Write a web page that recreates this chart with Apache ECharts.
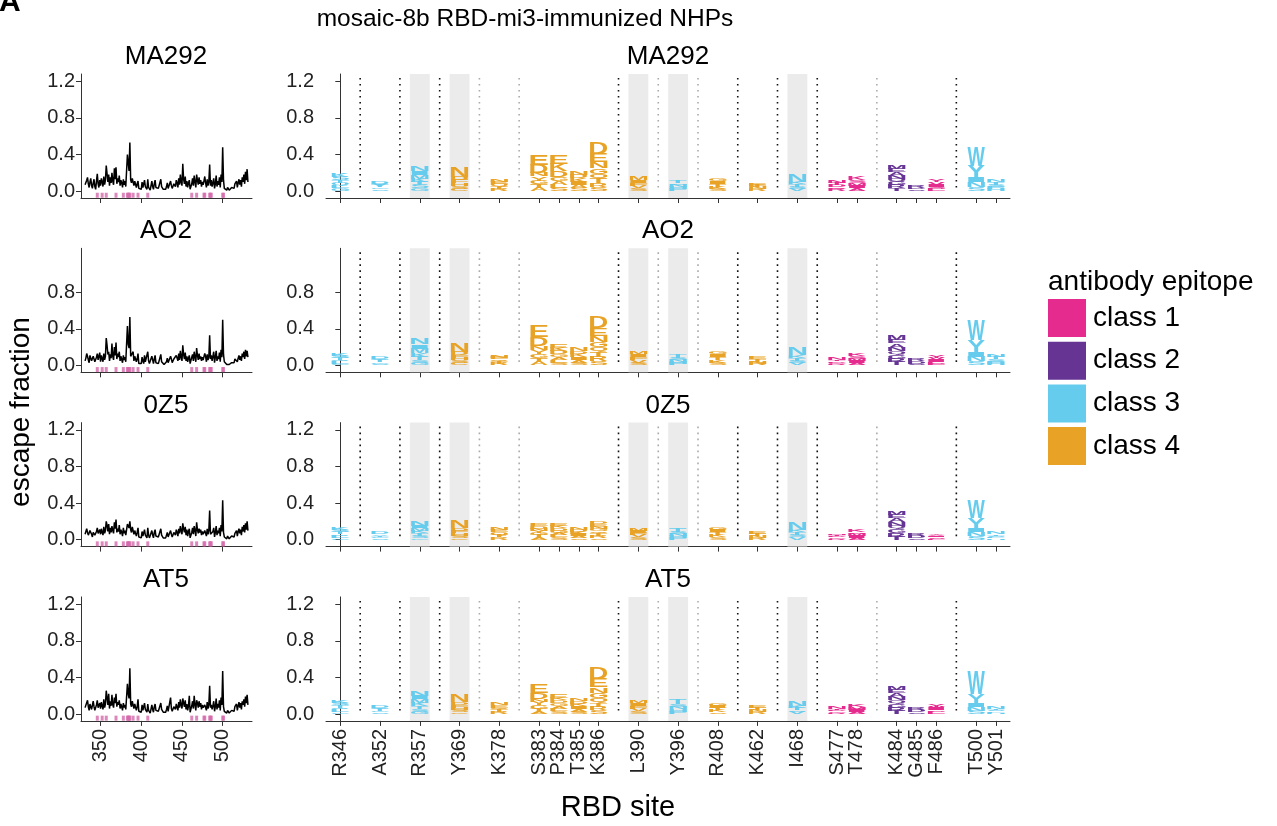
<!DOCTYPE html>
<html>
<head>
<meta charset="utf-8">
<script src="https://cdn.jsdelivr.net/npm/echarts@6/dist/echarts.min.js"></script>
<style>
	html, body { margin: 0; background: #fff; }
	#chart { width: 1277px; height: 826px; }
</style>
</head>
<body>
<div id="chart"></div>
<script>
// ---- data ----
const animals = ["MA292", "AO2", "0Z5", "AT5"];
const siteStart = 331; // line plots run 331..531

const lineMA292 = [
	0.07,0.05,0.12,0.15,0.08,0.04,0.10,0.14,0.06,0.03,
	0.09,0.13,0.05,0.02,0.11,0.19,0.08,0.04,0.12,0.06,
	0.14,0.10,0.05,0.16,0.07,0.12,0.28,0.27,0.10,0.18,
	0.06,0.15,0.09,0.20,0.11,0.07,0.25,0.13,0.26,0.08,
	0.14,0.10,0.17,0.06,0.12,0.09,0.04,0.13,0.07,0.11,
	0.05,0.03,0.40,0.39,0.22,0.53,0.12,0.09,0.14,0.16,
	0.06,0.11,0.13,0.04,0.08,0.11,0.03,0.02,0.05,0.02,
	0.10,0.04,0.02,0.12,0.05,0.03,0.02,0.13,0.04,0.02,
	0.01,0.03,0.11,0.05,0.02,0.08,0.12,0.04,0.06,0.02,
	0.03,0.02,0.01,0.13,0.05,0.04,0.02,0.01,0.03,0.02,
	0.05,0.09,0.03,0.02,0.04,0.11,0.06,0.03,0.02,0.08,
	0.10,0.05,0.12,0.09,0.04,0.14,0.07,0.18,0.10,0.06,
	0.30,0.13,0.08,0.16,0.05,0.11,0.04,0.09,0.12,0.02,
	0.03,0.08,0.14,0.06,0.17,0.10,0.04,0.18,0.12,0.07,
	0.15,0.08,0.12,0.05,0.10,0.07,0.11,0.16,0.09,0.04,
	0.13,0.06,0.10,0.29,0.06,0.12,0.05,0.09,0.14,0.03,
	0.08,0.17,0.05,0.11,0.07,0.15,0.04,0.18,0.10,0.48,
	0.12,0.03,0.02,0.05,0.01,0.04,0.02,0.01,0.03,0.02,
	0.04,0.02,0.05,0.03,0.08,0.06,0.11,0.04,0.09,0.13,
	0.07,0.12,0.05,0.15,0.10,0.18,0.08,0.21,0.12,0.24,0.10
];
const lineAO2 = [
	0.05,0.08,0.13,0.10,0.06,0.03,0.11,0.12,0.05,0.04,
	0.10,0.07,0.04,0.03,0.09,0.13,0.06,0.05,0.14,0.04,
	0.11,0.09,0.04,0.13,0.06,0.10,0.30,0.22,0.12,0.15,
	0.05,0.12,0.08,0.24,0.10,0.06,0.20,0.11,0.25,0.07,
	0.13,0.09,0.15,0.05,0.10,0.08,0.03,0.11,0.06,0.09,
	0.04,0.05,0.43,0.23,0.19,0.53,0.10,0.08,0.12,0.15,
	0.05,0.10,0.12,0.04,0.07,0.13,0.02,0.03,0.04,0.02,
	0.09,0.05,0.02,0.11,0.04,0.03,0.02,0.15,0.05,0.02,
	0.02,0.04,0.10,0.06,0.02,0.07,0.11,0.03,0.05,0.02,
	0.02,0.03,0.01,0.12,0.04,0.05,0.02,0.01,0.02,0.03,
	0.04,0.08,0.03,0.02,0.05,0.10,0.07,0.03,0.02,0.07,
	0.09,0.06,0.11,0.08,0.05,0.13,0.06,0.16,0.09,0.05,
	0.22,0.12,0.07,0.14,0.05,0.10,0.04,0.08,0.11,0.02,
	0.04,0.09,0.12,0.05,0.15,0.09,0.04,0.19,0.11,0.06,
	0.13,0.07,0.10,0.05,0.09,0.06,0.08,0.13,0.10,0.04,
	0.12,0.06,0.09,0.33,0.07,0.11,0.05,0.10,0.15,0.03,
	0.09,0.16,0.05,0.10,0.07,0.14,0.04,0.17,0.09,0.50,
	0.12,0.04,0.02,0.04,0.01,0.03,0.02,0.01,0.02,0.03,
	0.03,0.02,0.04,0.03,0.07,0.05,0.09,0.04,0.08,0.11,
	0.06,0.10,0.05,0.13,0.09,0.15,0.07,0.17,0.10,0.16,0.09
];
const line0Z5 = [
	0.06,0.09,0.12,0.08,0.05,0.04,0.10,0.11,0.06,0.03,
	0.08,0.10,0.05,0.03,0.09,0.13,0.07,0.05,0.11,0.06,
	0.12,0.08,0.05,0.14,0.07,0.10,0.20,0.16,0.09,0.17,
	0.06,0.13,0.08,0.15,0.10,0.07,0.19,0.12,0.22,0.08,
	0.12,0.09,0.16,0.06,0.11,0.08,0.04,0.13,0.07,0.10,
	0.05,0.04,0.17,0.17,0.13,0.20,0.11,0.08,0.14,0.12,
	0.06,0.10,0.12,0.04,0.08,0.13,0.03,0.02,0.05,0.02,
	0.09,0.04,0.02,0.11,0.05,0.03,0.02,0.13,0.05,0.02,
	0.02,0.04,0.10,0.05,0.02,0.08,0.11,0.04,0.06,0.02,
	0.03,0.02,0.01,0.12,0.05,0.04,0.02,0.01,0.03,0.02,
	0.05,0.08,0.03,0.02,0.04,0.10,0.06,0.03,0.02,0.08,
	0.09,0.05,0.11,0.08,0.04,0.12,0.07,0.15,0.10,0.06,
	0.18,0.12,0.08,0.14,0.05,0.11,0.04,0.09,0.12,0.02,
	0.03,0.08,0.13,0.06,0.15,0.10,0.04,0.19,0.11,0.07,
	0.12,0.08,0.11,0.05,0.09,0.06,0.07,0.10,0.09,0.04,
	0.12,0.06,0.10,0.32,0.06,0.07,0.05,0.09,0.13,0.03,
	0.08,0.15,0.05,0.10,0.07,0.13,0.04,0.16,0.09,0.43,
	0.08,0.03,0.02,0.05,0.01,0.04,0.02,0.01,0.03,0.02,
	0.04,0.02,0.05,0.03,0.07,0.06,0.10,0.04,0.09,0.12,
	0.07,0.11,0.05,0.14,0.09,0.16,0.08,0.18,0.11,0.20,0.10
];
const lineAT5 = [
	0.07,0.09,0.06,0.15,0.08,0.04,0.11,0.13,0.05,0.03,
	0.14,0.08,0.04,0.02,0.10,0.15,0.07,0.05,0.12,0.06,
	0.13,0.09,0.05,0.16,0.07,0.11,0.255,0.24,0.10,0.22,
	0.06,0.14,0.09,0.21,0.10,0.07,0.18,0.12,0.22,0.08,
	0.13,0.10,0.15,0.06,0.11,0.08,0.04,0.12,0.07,0.10,
	0.05,0.03,0.33,0.22,0.17,0.50,0.11,0.08,0.14,0.15,
	0.06,0.11,0.13,0.04,0.08,0.16,0.03,0.02,0.05,0.02,
	0.10,0.04,0.02,0.12,0.05,0.03,0.02,0.11,0.04,0.02,
	0.01,0.03,0.10,0.05,0.02,0.08,0.11,0.04,0.06,0.02,
	0.03,0.02,0.01,0.12,0.05,0.04,0.02,0.01,0.03,0.02,
	0.05,0.09,0.03,0.02,0.04,0.18,0.06,0.03,0.02,0.08,
	0.10,0.05,0.11,0.09,0.04,0.13,0.07,0.16,0.10,0.06,
	0.17,0.12,0.08,0.15,0.05,0.11,0.04,0.09,0.20,0.02,
	0.03,0.09,0.14,0.06,0.20,0.10,0.04,0.15,0.12,0.07,
	0.14,0.08,0.12,0.05,0.10,0.07,0.08,0.10,0.09,0.04,
	0.13,0.06,0.10,0.31,0.07,0.10,0.05,0.09,0.14,0.03,
	0.08,0.17,0.05,0.11,0.07,0.15,0.04,0.18,0.10,0.47,
	0.08,0.03,0.02,0.05,0.01,0.04,0.02,0.01,0.03,0.02,
	0.04,0.02,0.05,0.03,0.08,0.06,0.11,0.04,0.09,0.13,
	0.07,0.12,0.05,0.14,0.10,0.16,0.08,0.19,0.12,0.21,0.10
];

// logo plot sites, their slot on the gapped axis and epitope class
const logoSites = ["R346","A352","R357","Y369","K378","S383","P384","T385","K386","L390","Y396",
	"R408","K462","I468","S477","T478","K484","G485","F486","T500","Y501"];
const siteSlot = [0,2,4,6,8,10,11,12,13,15,17,19,21,23,25,26,28,29,30,32,33];
const siteClass = [3,3,3,4,4,4,4,4,4,4,3,4,4,3,1,1,2,2,1,3,3];
// letters stacked bottom -> top at each site
const siteLetters = ["GLQTSK","SGTVD","GSTKMIN","CSHFDN","RTQEN","ATGYNDE","SLAGDKE","SAIKDN",
	"SRTQGNED","SVFIM","FHNST","SKTIG","RNTE","VSTKN","RGDTN","AIMSK","TRGQNAEM","SDR","LSIVY","SNIYW","HFSTN"];
const shadedSites = ["R357","Y369","L390","Y396","I468"];
const gapSlots = [1,3,5,7,9,14,16,18,20,22,24,27,31];
const gapDark = [1,1,1,0,0,1,0,0,1,1,1,0,1];

// escape fraction of each letter (same order as siteLetters)
const logoMA292 = [
	[.03,.03,.03,.03,.035,.035],[.02,.02,.02,.02,.02],[.03,.035,.035,.035,.045,.04,.06],
	[.025,.03,.03,.035,.035,.11],[.025,.025,.03,.025,.03],[.035,.04,.04,.045,.04,.09,.11],
	[.035,.035,.04,.04,.07,.08,.09],[.035,.035,.035,.04,.035,.04],[.04,.045,.05,.055,.06,.07,.09,.12],
	[.03,.03,.03,.03,.04],[.02,.02,.025,.02,.03],[.025,.025,.03,.025,.03],[.02,.02,.02,.02],
	[.025,.025,.025,.025,.08],[.02,.02,.025,.02,.025],[.03,.03,.03,.03,.04],
	[.03,.035,.035,.035,.035,.04,.035,.045],[.018,.018,.02],[.02,.025,.025,.025,.025],
	[.045,.05,.055,.12,.21],[.02,.025,.025,.025,.025]
];
const logoAO2 = [
	[.02,.02,.02,.02,.025,.025],[.02,.015,.02,.015,.02],[.03,.03,.035,.04,.05,.045,.07],
	[.025,.03,.03,.03,.035,.10],[.02,.02,.025,.02,.025],[.04,.04,.045,.045,.04,.1,.12],
	[.03,.03,.03,.03,.035,.035,.04],[.03,.03,.03,.035,.03,.035],[.045,.05,.05,.055,.06,.065,.085,.12],
	[.03,.03,.03,.03,.03],[.02,.02,.02,.025,.045],[.03,.03,.03,.03,.03],[.02,.02,.025,.025],
	[.025,.025,.03,.03,.08],[.015,.015,.015,.015,.02],[.025,.025,.025,.025,.03],
	[.035,.04,.04,.04,.04,.045,.04,.05],[.02,.025,.025],[.02,.02,.02,.025,.025],
	[.045,.05,.055,.13,.22],[.02,.02,.025,.025,.03]
];
const logo0Z5 = [
	[.02,.02,.02,.02,.025,.025],[.015,.015,.015,.015,.02],[.02,.025,.025,.025,.03,.025,.05],
	[.02,.025,.025,.03,.03,.09],[.025,.025,.03,.025,.025],[.025,.025,.025,.025,.02,.025,.025],
	[.025,.025,.025,.025,.025,.02,.025],[.02,.02,.02,.025,.02,.025],[.02,.02,.025,.025,.025,.025,.03,.03],
	[.025,.025,.025,.02,.025],[.02,.02,.025,.025,.04],[.025,.025,.03,.025,.025],[.02,.02,.02,.02],
	[.025,.025,.03,.03,.08],[.01,.015,.015,.015,.015],[.02,.02,.02,.02,.02],
	[.035,.04,.04,.04,.04,.04,.04,.045],[.02,.02,.02],[.01,.015,.015,.015,.015],
	[.04,.045,.045,.11,.19],[.015,.015,.015,.015,.02]
];
const logoAT5 = [
	[.02,.025,.025,.025,.025,.03],[.02,.015,.02,.015,.02],[.025,.03,.03,.035,.04,.035,.06],
	[.02,.025,.025,.03,.03,.09],[.02,.025,.025,.025,.025],[.03,.03,.035,.035,.03,.07,.10],
	[.03,.03,.03,.03,.03,.03,.04],[.025,.03,.03,.03,.025,.03],[.04,.04,.045,.05,.055,.06,.09,.12],
	[.03,.03,.03,.03,.03],[.025,.025,.025,.03,.055],[.02,.02,.025,.02,.025],[.02,.02,.025,.025],
	[.02,.02,.025,.025,.06],[.015,.015,.015,.015,.02],[.02,.02,.02,.02,.02],
	[.035,.035,.04,.04,.04,.04,.035,.045],[.02,.025,.025],[.02,.02,.02,.02,.02],
	[.035,.04,.045,.1,.25],[.015,.015,.015,.015,.02]
];

const lineTicks = [350, 400, 450, 500];
const yTicksByRow = [[0, 0.4, 0.8, 1.2], [0, 0.4, 0.8], [0, 0.4, 0.8, 1.2], [0, 0.4, 0.8, 1.2]];
const classNames = ["class 1", "class 2", "class 3", "class 4"];
const classColors = ["#E52B8E", "#663594", "#66CCEE", "#E8A225"];

// ---- chart ----
const lines = [lineMA292, lineAO2, line0Z5, lineAT5];
const logos = [logoMA292, logoAO2, logo0Z5, logoAT5];
const font = '"Liberation Sans", Arial, Helvetica, sans-serif';
const axisColor = "#333";

const slotName = {};
siteSlot.forEach((s, k) => (slotName[s] = logoSites[k]));
const siteNum = logoSites.map((n) => parseInt(n.slice(1), 10));

// glyph boxes for stretching logo letters
const mctx = document.createElement("canvas").getContext("2d");
mctx.font = 'bold 100px "Liberation Sans"';
mctx.textAlign = "center";
mctx.textBaseline = "middle";
const glyphs = {};
function glyph(ch) {
	if (!glyphs[ch]) {
		const m = mctx.measureText(ch);
		glyphs[ch] = {
			w: m.actualBoundingBoxLeft + m.actualBoundingBoxRight,
			dx: (m.actualBoundingBoxRight - m.actualBoundingBoxLeft) / 2,
			h: m.actualBoundingBoxAscent + m.actualBoundingBoxDescent,
			dy: (m.actualBoundingBoxDescent - m.actualBoundingBoxAscent) / 2,
		};
	}
	return glyphs[ch];
}

const grids = [], xAxes = [], yAxes = [], series = [], graphics = [];
const rowH = 124;

function yAxis(gi, ticks, margin) {
	return {
		type: "value", gridIndex: gi, min: -0.075, max: 1.28,
		axisLine: { show: true, lineStyle: { color: axisColor, width: 1 } },
		axisTick: { show: true, length: 5, customValues: ticks, lineStyle: { color: axisColor } },
		axisLabel: { customValues: ticks, formatter: (v) => v.toFixed(1), fontSize: 20, color: "#222", fontFamily: font, margin: margin },
		splitLine: { show: false },
	};
}

animals.forEach((name, i) => {
	const top = 74 + i * 174.3;
	const last = i === animals.length - 1;
	const gl = i * 2, gr = i * 2 + 1;
	grids.push({ left: 81, top: top, width: 171, height: rowH });
	grids.push({ left: 326, top: top, width: 684, height: rowH });

	xAxes.push({
		type: "value", gridIndex: gl, min: 326, max: 536,
		axisLine: { onZero: false, lineStyle: { color: axisColor, width: 1 } },
		axisTick: { length: 5, customValues: lineTicks, lineStyle: { color: axisColor } },
		axisLabel: { show: last, customValues: lineTicks, rotate: 90, fontSize: 20, color: "#222", fontFamily: font, margin: 8 },
		splitLine: { show: false },
	});
	xAxes.push({
		type: "value", gridIndex: gr, min: -0.72, max: 33.7,
		axisLine: { onZero: false, lineStyle: { color: axisColor, width: 1 } },
		axisTick: { length: 5, customValues: siteSlot, lineStyle: { color: axisColor } },
		axisLabel: {
			show: last, customValues: siteSlot, rotate: 90, fontSize: 20, color: "#222", fontFamily: font, margin: 8,
			formatter: (v) => slotName[Math.round(v)] || "",
		},
		splitLine: { show: false },
	});
	yAxes.push(yAxis(gl, yTicksByRow[i], 6));
	yAxes.push(yAxis(gr, yTicksByRow[i], 12));

	// left: escape along the RBD
	series.push({
		type: "line", xAxisIndex: gl, yAxisIndex: gl, symbol: "none", silent: true,
		lineStyle: { color: "#000", width: 1.5 },
		data: lines[i].map((v, k) => [siteStart + k, v]),
	});
	series.push({
		type: "scatter", xAxisIndex: gl, yAxisIndex: gl, symbol: "rect", symbolSize: [3, 5], silent: true,
		itemStyle: { color: "#d46aab" },
		data: siteNum.map((s) => [s, -0.045]),
	});

	// right: shaded sites and separators
	series.push({
		type: "custom", xAxisIndex: gr, yAxisIndex: gr, silent: true, z: 1,
		data: shadedSites.map((s) => [siteSlot[logoSites.indexOf(s)], 0]),
		renderItem: (params, api) => {
			const cs = params.coordSys;
			const c = api.coord([api.value(0), 0]);
			const w = api.size([1, 0])[0];
			return { type: "rect", shape: { x: c[0] - w / 2, y: cs.y, width: w, height: cs.height }, style: { fill: "#ebebeb" } };
		},
	});
	series.push({
		type: "custom", xAxisIndex: gr, yAxisIndex: gr, silent: true, z: 2,
		data: gapSlots.map((s, k) => [s, gapDark[k]]),
		renderItem: (params, api) => {
			const cs = params.coordSys;
			const c = api.coord([api.value(0), 0]);
			return {
				type: "line",
				shape: { x1: c[0], y1: cs.y + 4, x2: c[0], y2: c[1] },
				style: { stroke: api.value(1) ? "#111" : "#aaa", lineWidth: 1.6, lineDash: [1.6, 4.4] },
			};
		},
	});

	// right: logo letters
	const recs = [];
	logos[i].forEach((hs, k) => {
		let y = 0;
		hs.forEach((h, j) => {
			recs.push({ slot: siteSlot[k], y0: y, y1: y + h, ch: siteLetters[k][j], color: classColors[siteClass[k] - 1] });
			y += h;
		});
	});
	series.push({
		type: "custom", xAxisIndex: gr, yAxisIndex: gr, silent: true, z: 3,
		data: recs.map((r) => [r.slot, r.y0, r.y1]),
		renderItem: (params, api) => {
			const r = recs[params.dataIndex];
			const b = api.coord([r.slot, r.y0]);
			const t = api.coord([r.slot, r.y1]);
			const w = api.size([1, 0])[0] * 0.88;
			const g = glyph(r.ch);
			return {
				type: "text",
				x: b[0], y: (b[1] + t[1]) / 2,
				scaleX: w / g.w, scaleY: (b[1] - t[1]) / g.h,
				style: {
					text: r.ch, x: -g.dx, y: -g.dy, fill: r.color,
					fontSize: 100, fontWeight: "bold", fontFamily: '"Liberation Sans"',
					align: "center", verticalAlign: "middle",
				},
			};
		},
	});

	// panel titles
	graphics.push({ type: "text", x: 166, y: top - 17, style: { text: name, fontSize: 26, fontFamily: font, fill: "#000", align: "center", verticalAlign: "middle" } });
	graphics.push({ type: "text", x: 668, y: top - 17, style: { text: name, fontSize: 26, fontFamily: font, fill: "#000", align: "center", verticalAlign: "middle" } });
});

graphics.push({ type: "text", x: -1, y: 18, style: { text: "A", fontSize: 30, fontWeight: "bold", fontFamily: font, fill: "#000", verticalAlign: "bottom" } });
graphics.push({ type: "text", x: 525, y: 19, style: { text: "mosaic-8b RBD-mi3-immunized NHPs", fontSize: 24.5, fontFamily: font, fill: "#000", align: "center", verticalAlign: "middle" } });
graphics.push({ type: "text", x: 21, y: 412, rotation: Math.PI / 2, style: { text: "escape fraction", fontSize: 28, fontFamily: font, fill: "#000", align: "center", verticalAlign: "middle" } });
graphics.push({ type: "text", x: 618, y: 808, style: { text: "RBD site", fontSize: 29, fontFamily: font, fill: "#000", align: "center", verticalAlign: "middle" } });

// legend
graphics.push({ type: "text", x: 1048, y: 282, style: { text: "antibody epitope", fontSize: 28, fontFamily: font, fill: "#000", verticalAlign: "middle" } });
classNames.forEach((c, k) => {
	const y = 299 + k * 42.7;
	graphics.push({ type: "rect", shape: { x: 1048, y: y, width: 38, height: 38 }, style: { fill: classColors[k] } });
	graphics.push({ type: "text", x: 1093, y: y + 19, style: { text: c, fontSize: 28, fontFamily: font, fill: "#000", verticalAlign: "middle" } });
});

const chart = echarts.init(document.getElementById("chart"));
chart.setOption({
	animation: false,
	backgroundColor: "#fff",
	textStyle: { fontFamily: font },
	grid: grids,
	xAxis: xAxes,
	yAxis: yAxes,
	series: series,
	graphic: graphics,
});
</script>
</body>
</html>
